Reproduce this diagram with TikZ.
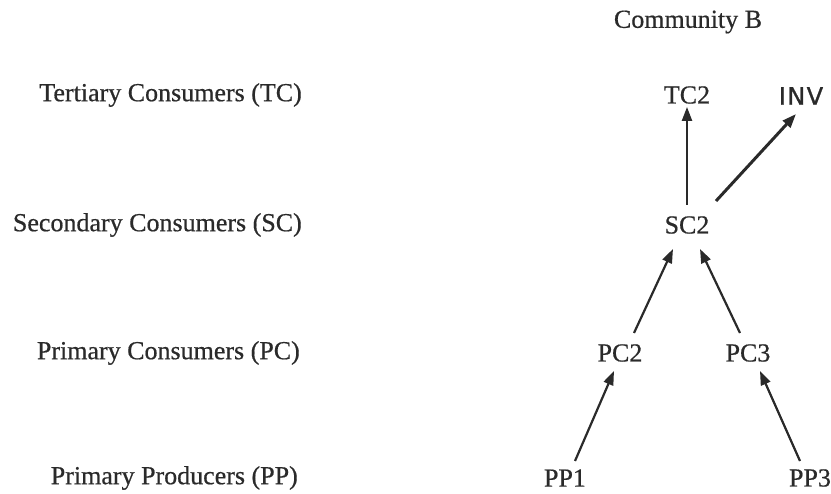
\documentclass[tikz,border=0pt]{standalone}
\usepackage{fontspec}
\setmainfont[FakeBold=0.6]{Liberation Serif}
\newfontfamily\handfont[LetterSpace=6,FakeBold=1]{DejaVu Sans}
\usetikzlibrary{arrows.meta}
\definecolor{ink}{HTML}{2A2A2A}
\begin{document}
\begin{tikzpicture}[x=1pt,y=-1pt,
  lbl/.style={inner sep=0pt,anchor=east,text=ink,font=\fontsize{26}{30}\selectfont},
  sp/.style={inner sep=3pt,text=ink,font=\fontsize{26}{30}\selectfont},
  link/.style={draw=ink,line width=2.2pt,-{Triangle[length=14pt,width=10pt]}}]
\useasboundingbox (0,0) rectangle (831,494);
\node[sp] (title) at (688,22) {Community B};
\node[lbl] (lTC) at (302,95) {Tertiary Consumers (TC)};
\node[lbl] (lSC) at (302,225) {Secondary Consumers (SC)};
\node[lbl] (lPC) at (300,353) {Primary Consumers (PC)};
\node[lbl] (lPP) at (298,478) {Primary Producers (PP)};
\node[sp] (TC2) at (687,95) {TC2};
\node[sp] (SC2) at (687,225) {SC2};
\node[sp] (PC2) at (620,353) {PC2};
\node[sp] (PC3) at (748,353) {PC3};
\node[sp] (PP1) at (565,478) {PP1};
\node[sp] (PP3) at (810,478) {PP3};
\node[inner sep=0pt,text=ink,font=\handfont\fontsize{24}{28}\selectfont] (INV) at (801,96) {INV};
\coordinate (invend) at (796,114);
\draw[link] (687,205) -- (TC2.south);
\draw[link,line width=3pt] (716,201) -- (invend);
\draw[link] (634,333) -- (673,249);
\draw[link] (740,333) -- (700,249);
\draw[link] (575,461) -- (614,371);
\draw[link] (800,461) -- (760,371);
\end{tikzpicture}
\end{document}
